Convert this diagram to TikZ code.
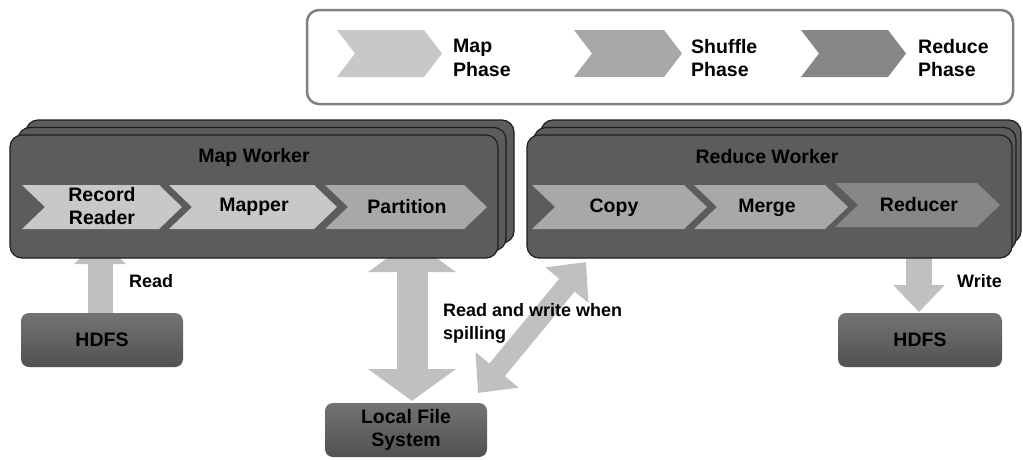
\documentclass[tikz,border=0pt]{standalone}
\usepackage{fontspec}
\setmainfont{Liberation Sans}
\usetikzlibrary{arrows.meta,calc}
\definecolor{lightc}{HTML}{C8C8C8}
\definecolor{midc}{HTML}{A8A8A8}
\definecolor{darkc}{HTML}{878787}
\definecolor{boxc}{HTML}{5C5C5C}
\definecolor{edgec}{HTML}{1E1E1E}
\definecolor{arrc}{HTML}{C0C0C0}
\newcommand\chevshape[6]{%
  \fill[#6] (#1,#3) -- ({#2-#5},#3) -- (#2,{(#3+#4)/2}) -- ({#2-#5},#4) -- (#1,#4) -- ({#1+#5},{(#3+#4)/2}) -- cycle;}
\begin{document}
\begin{tikzpicture}[x=1pt,y=-1pt,
  txt/.style={font=\bfseries\fontsize{19.5}{23.5}\selectfont, text=black, inner sep=0pt, align=center},
  ltxt/.style={txt, align=left, anchor=west},
  lab/.style={ltxt, font=\bfseries\fontsize{18}{23}\selectfont},
  worker/.style={draw=edgec, line width=1.2pt, fill=boxc, rounded corners=12pt, inner sep=0pt},
  store/.style={rounded corners=8pt, top color=black!55, bottom color=black!68, inner sep=0pt, minimum width=162pt, minimum height=54pt, font=\bfseries\fontsize{19.5}{23}\selectfont, align=center},
  bigarrow/.style={draw=arrc, line width=#1},
]
\useasboundingbox (0,0) rectangle (1023,459);

% legend
\node[draw=black!50, line width=2.5pt, rounded corners=12pt, fill=white, minimum width=706pt, minimum height=94pt, inner sep=0pt] (legend) at (660,57) {};
\chevshape{337}{442}{30}{77}{18}{lightc}
\chevshape{574}{682}{30}{77}{18}{midc}
\chevshape{801}{906}{30}{77}{18}{darkc}
\node[ltxt] (lmap) at (453,58) {Map\\Phase};
\node[ltxt] (lshuf) at (691,58) {Shuffle\\Phase};
\node[ltxt] (lred) at (918,58) {Reduce\\Phase};

% arrow anchors
\coordinate (rdA) at (100,320);
\coordinate (rdB) at (100,238);
\coordinate (ptA) at (412,240);
\coordinate (ptB) at (412,401);
\coordinate (wrA) at (919,245);
\coordinate (wrB) at (919,312);
\coordinate (spA) at (478,393);
\coordinate (spB) at (586,262);

\draw[bigarrow=25pt, -{Triangle[width=50pt,length=26pt]}] (rdA) -- (rdB);
\draw[bigarrow=31pt, {Triangle[width=86pt,length=32pt]}-{Triangle[width=86pt,length=32pt]}] (ptA) -- (ptB);
\draw[bigarrow=26pt, -{Triangle[width=50pt,length=27pt]}] (wrA) -- (wrB);
\draw[bigarrow=20pt, {Triangle[width=54pt,length=30pt]}-{Triangle[width=54pt,length=30pt]}] (spA) -- (spB);

% map worker stack
\node[worker, minimum width=488pt, minimum height=123pt] (mapw3) at (270,181.5) {};
\node[worker, minimum width=488pt, minimum height=123pt] (mapw2) at (262,189) {};
\node[worker, minimum width=488pt, minimum height=123pt] (mapw) at (254,196.5) {};
\node[txt] (mapt) at (254,157) {Map Worker};
\chevshape{22}{182}{185}{229}{23}{lightc}
\chevshape{169}{337}{185}{229}{23}{lightc}
\chevshape{325}{487}{185}{229}{23}{midc}
\node[txt] (rr) at (102,206) {Record\\Reader};
\node[txt] (mapper) at (254,207) {Mapper};
\node[txt] (part) at (407,207) {Partition};

% reduce worker stack
\node[worker, minimum width=480pt, minimum height=123pt] (redw3) at (781,181.5) {};
\node[worker, minimum width=482pt, minimum height=123pt] (redw2) at (775,189) {};
\node[worker, minimum width=485pt, minimum height=123pt] (redw) at (769.5,196.5) {};
\node[txt] (redt) at (767,157) {Reduce Worker};
\chevshape{532}{707}{185}{229}{23}{midc}
\chevshape{694}{848}{185}{229}{23}{midc}
\chevshape{835}{1000}{183}{227}{23}{darkc}
\node[txt] (copy) at (614,208) {Copy};
\node[txt] (merge) at (767,208) {Merge};
\node[txt] (reducer) at (919,205) {Reducer};

% stores
\node[store] (hdfsl) at (102,340) {HDFS};
\node[store, minimum width=164pt] (hdfsr) at (920,340) {HDFS};
\node[store] (lfs) at (406,430) {Local File\\System};

% labels
\node[lab] (lread) at (129,281) {Read};
\node[lab] (lwrite) at (957,281) {Write};
\node[lab] (lspill) at (443,323.5) {Read and write when\\spilling};
\end{tikzpicture}
\end{document}
